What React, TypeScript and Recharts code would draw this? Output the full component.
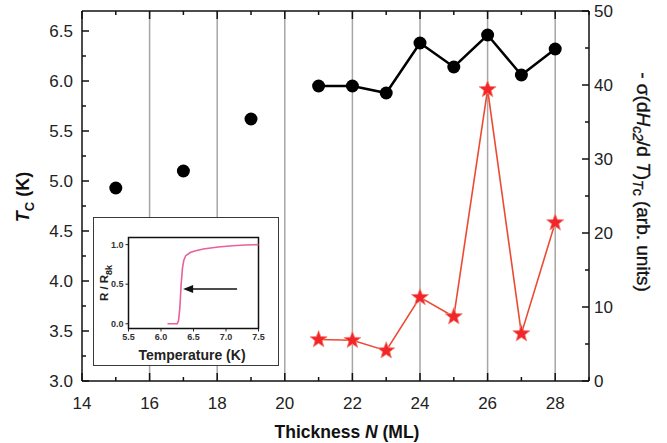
import React from 'react';
import {
  ComposedChart,
  LineChart,
  Line,
  XAxis,
  YAxis,
  CartesianGrid,
  ReferenceLine,
  ReferenceArea,
} from 'recharts';

// ---- main chart data ----
const thicknessEarly = [15, 17, 19];
const tcEarly = [4.93, 5.1, 5.62];
const thicknessLate = [21, 22, 23, 24, 25, 26, 27, 28];
const tcLate = [5.95, 5.95, 5.88, 6.38, 6.14, 6.46, 6.06, 6.32];
const slopeLate = [5.6, 5.5, 4.1, 11.3, 8.7, 39.4, 6.4, 21.4];

const xTicks = [14, 15, 16, 17, 18, 19, 20, 21, 22, 23, 24, 25, 26, 27, 28, 29];
const xLabelTicks = [14, 16, 18, 20, 22, 24, 26, 28];
const gridX = [16, 18, 20, 22, 24, 26, 28];
const leftTicks = [3, 3.25, 3.5, 3.75, 4, 4.25, 4.5, 4.75, 5, 5.25, 5.5, 5.75, 6, 6.25, 6.5];
const leftLabelTicks = [3, 3.5, 4, 4.5, 5, 5.5, 6, 6.5];
const rightTicks = [0, 5, 10, 15, 20, 25, 30, 35, 40, 45, 50];
const rightLabelTicks = [0, 10, 20, 30, 40, 50];

// ---- inset data ----
const insetTemp = [6.1, 6.25, 6.27, 6.29, 6.31, 6.33, 6.35, 6.38, 6.45, 6.52, 6.65, 6.88, 7.1, 7.3, 7.5];
const insetR = [0, 0, 0.04, 0.2, 0.5, 0.7, 0.8, 0.86, 0.9, 0.92, 0.945, 0.97, 0.985, 0.995, 1.0];
const insetXTicks = [5.5, 6.0, 6.5, 7.0, 7.5];
const insetYTicks = [0, 0.5, 1.0];
const arrowFrom = { t: 7.17, r: 0.44 };
const arrowTo = { t: 6.34, r: 0.44 };

const FONT = '"Liberation Sans", Arial, Helvetica, sans-serif';

const mainData = [
  ...thicknessEarly.map((n, i) => ({ n, tcEarly: tcEarly[i] })),
  ...thicknessLate.map((n, i) => ({ n, tc: tcLate[i], slope: slopeLate[i] })),
];
const insetData = insetTemp.map((t, i) => ({ t, r: insetR[i] }));

const AXIS = '#111';
const TICK_FONT = 17;

const BottomTick = (props: any) => {
  const { x, y, payload } = props;
  const v = payload.value;
  const major = xLabelTicks.includes(v);
  return (
    <g>
      <line x1={x} x2={x} y1={y} y2={y - (major ? 8 : 4)} stroke={AXIS} strokeWidth={1.5} />
      {major && (
        <text x={x} y={y + 22} textAnchor="middle" dominantBaseline="central" fontSize={TICK_FONT} fill="#222" fontFamily={FONT}>
          {v}
        </text>
      )}
    </g>
  );
};

const TopTick = (props: any) => {
  const { x, y, payload } = props;
  const v = payload.value;
  const major = xLabelTicks.includes(v);
  return <line x1={x} x2={x} y1={y} y2={y + (major ? 8 : 4)} stroke={AXIS} strokeWidth={1.5} />;
};

const LeftTick = (props: any) => {
  const { x, y, payload } = props;
  const v = payload.value;
  const major = leftLabelTicks.includes(v);
  return (
    <g>
      <line x1={x} x2={x + (major ? 7 : 4)} y1={y} y2={y} stroke={AXIS} strokeWidth={1.5} />
      {major && (
        <text x={x - 9} y={y} textAnchor="end" dominantBaseline="central" fontSize={TICK_FONT} fill="#222" fontFamily={FONT}>
          {v.toFixed(1)}
        </text>
      )}
    </g>
  );
};

const RightTick = (props: any) => {
  const { x, y, payload } = props;
  const v = payload.value;
  const major = rightLabelTicks.includes(v);
  return (
    <g>
      <line x1={x} x2={x - (major ? 7 : 4)} y1={y} y2={y} stroke={AXIS} strokeWidth={1.5} />
      {major && (
        <text x={x + 5} y={y} textAnchor="start" dominantBaseline="central" fontSize={TICK_FONT} fill="#222" fontFamily={FONT}>
          {v}
        </text>
      )}
    </g>
  );
};

const StarDot = (props: any) => {
  const { cx, cy, index } = props;
  if (cx == null || cy == null) return <g key={`s-${index}`} />;
  const R = 9;
  const r = 3.8;
  const pts: string[] = [];
  for (let i = 0; i < 10; i++) {
    const a = -Math.PI / 2 + (i * Math.PI) / 5;
    const rad = i % 2 === 0 ? R : r;
    pts.push(`${cx + rad * Math.cos(a)},${cy + rad * Math.sin(a)}`);
  }
  return <polygon key={`s-${index}`} points={pts.join(' ')} fill="#f2262a" stroke="#f48a7c" strokeWidth={0.8} />;
};

const ArrowShape = (p: any) => {
  const { x1, y1, x2, y2 } = p;
  const left = Math.min(x1, x2);
  const right = Math.max(x1, x2);
  const y = (y1 + y2) / 2;
  return (
    <g>
      <line x1={right} x2={left + 8} y1={y} y2={y} stroke="#111" strokeWidth={1.4} />
      <polygon points={`${left},${y} ${left + 10},${y - 4} ${left + 10},${y + 4}`} fill="#111" />
    </g>
  );
};

const InsetXTick = (props: any) => {
  const { x, y, payload } = props;
  return (
    <text x={x} y={y + 8} textAnchor="middle" fontSize={9} fontWeight="bold" fill="#333" fontFamily={FONT}>
      {payload.value.toFixed(1)}
    </text>
  );
};

const InsetYTick = (props: any) => {
  const { x, y, payload } = props;
  return (
    <text x={x} y={y} textAnchor="end" dominantBaseline="central" fontSize={9} fontWeight="bold" fill="#333" fontFamily={FONT}>
      {payload.value.toFixed(1)}
    </text>
  );
};

export default function App() {
  return (
    <div style={{ position: 'absolute', left: 0, top: 0, width: 667, height: 443, background: '#fff', fontFamily: FONT }}>
      <ComposedChart
        width={667}
        height={443}
        data={mainData}
        margin={{ top: 10, right: 38, bottom: 32, left: 32 }}
      >
        <CartesianGrid
          xAxisId="bottom"
          yAxisId="left"
          horizontal={false}
          verticalValues={gridX}
          stroke="#aaa5a5"
          strokeWidth={1.5}
        />
        <XAxis
          xAxisId="bottom"
          dataKey="n"
          type="number"
          domain={[14, 29]}
          ticks={xTicks}
          interval={0}
          tickSize={0}
          tickMargin={0}
          tickLine={false}
          tick={<BottomTick />}
          axisLine={{ stroke: AXIS, strokeWidth: 1.5 }}
          height={30}
        />
        <XAxis
          xAxisId="top"
          orientation="top"
          dataKey="n"
          type="number"
          domain={[14, 29]}
          ticks={xTicks}
          interval={0}
          tickSize={0}
          tickMargin={0}
          tickLine={false}
          tick={<TopTick />}
          axisLine={{ stroke: AXIS, strokeWidth: 1.5 }}
          height={1}
        />
        <YAxis
          yAxisId="left"
          type="number"
          domain={[3, 6.7]}
          ticks={leftTicks}
          interval={0}
          tickSize={0}
          tickMargin={0}
          tickLine={false}
          tick={<LeftTick />}
          axisLine={{ stroke: AXIS, strokeWidth: 1.5 }}
          width={50}
          allowDataOverflow
        />
        <YAxis
          yAxisId="right"
          orientation="right"
          type="number"
          domain={[0, 50]}
          ticks={rightTicks}
          interval={0}
          tickSize={0}
          tickMargin={0}
          tickLine={false}
          tick={<RightTick />}
          axisLine={{ stroke: AXIS, strokeWidth: 1.5 }}
          width={40}
        />
        <Line
          xAxisId="bottom"
          yAxisId="right"
          dataKey="slope"
          stroke="#ec4a33"
          strokeWidth={1.6}
          dot={StarDot}
          activeDot={false}
          isAnimationActive={false}
        />
        <Line
          xAxisId="bottom"
          yAxisId="left"
          dataKey="tcEarly"
          stroke="none"
          dot={{ r: 6.5, fill: '#000', stroke: '#000', strokeWidth: 0 }}
          activeDot={false}
          isAnimationActive={false}
        />
        <Line
          xAxisId="bottom"
          yAxisId="left"
          dataKey="tc"
          stroke="#000"
          strokeWidth={2.5}
          dot={{ r: 6.5, fill: '#000', stroke: '#000', strokeWidth: 0 }}
          activeDot={false}
          isAnimationActive={false}
        />
      </ComposedChart>

      {/* axis titles */}
      <div
        style={{
          position: 'absolute',
          left: 25,
          top: 197,
          transform: 'translate(-50%, -50%) rotate(-90deg)',
          whiteSpace: 'nowrap',
          fontSize: 18,
          fontWeight: 'bold',
          color: '#111',
        }}
      >
        <i>T</i>
        <sub style={{ fontSize: 13 }}>C</sub> (K)
      </div>
      <div
        style={{
          position: 'absolute',
          left: 642,
          top: 182,
          transform: 'translate(-50%, -50%) rotate(90deg)',
          whiteSpace: 'nowrap',
          fontSize: 19,
          color: '#111',
          WebkitTextStroke: '0.35px #111',
        }}
      >
        - σ(d<i>H</i>
        <sub style={{ fontSize: 14 }}>
          <i>c2</i>
        </sub>
        /d <i>T</i>)<sub style={{ fontSize: 14 }}><i>T</i>c</sub> (arb. units)
      </div>
      <div
        style={{
          position: 'absolute',
          left: 347,
          top: 432,
          transform: 'translate(-50%, -50%)',
          whiteSpace: 'nowrap',
          fontSize: 17.5,
          fontWeight: 'bold',
          color: '#111',
        }}
      >
        Thickness <i>N</i> (ML)
      </div>

      {/* inset */}
      <div
        style={{
          position: 'absolute',
          left: 93,
          top: 217,
          width: 186,
          height: 149,
          boxSizing: 'border-box',
          border: '1.5px solid #3a3a3a',
          background: '#fff',
        }}
      >
        <LineChart width={183} height={146} data={insetData} margin={{ top: 19.5, right: 18.5, bottom: 15, left: 10 }}>
          <XAxis
            dataKey="t"
            type="number"
            domain={[5.5, 7.5]}
            ticks={insetXTicks}
            interval={0}
            tickSize={3}
            tickMargin={0}
            tickLine={{ stroke: '#222' }}
            tick={<InsetXTick />}
            axisLine={false}
            height={20.5}
          />
          <YAxis
            type="number"
            domain={[-0.06, 1.09]}
            ticks={insetYTicks}
            interval={0}
            tickSize={3}
            tickMargin={2}
            tickLine={{ stroke: '#222' }}
            tick={<InsetYTick />}
            axisLine={false}
            width={24.5}
          />
          <ReferenceArea
            x1={5.5}
            x2={7.5}
            y1={-0.06}
            y2={1.09}
            ifOverflow="visible"
            fill="none"
            fillOpacity={0}
            stroke="#111"
            strokeWidth={1.5}
          />
          <Line dataKey="r" stroke="#e8609c" strokeWidth={1.6} dot={false} activeDot={false} isAnimationActive={false} />
          <ReferenceLine
            segment={[
              { x: arrowFrom.t, y: arrowFrom.r },
              { x: arrowTo.t, y: arrowTo.r },
            ]}
            shape={ArrowShape}
            ifOverflow="visible"
          />
        </LineChart>
        <div
          style={{
            position: 'absolute',
            left: 98,
            top: 137,
            transform: 'translate(-50%, -50%)',
            whiteSpace: 'nowrap',
            fontSize: 14,
            fontWeight: 'bold',
            color: '#222',
          }}
        >
          Temperature (K)
        </div>
        <div
          style={{
            position: 'absolute',
            left: 11.5,
            top: 65,
            transform: 'translate(-50%, -50%) rotate(-90deg)',
            whiteSpace: 'nowrap',
            fontSize: 11.5,
            fontWeight: 'bold',
            color: '#222',
          }}
        >
          R / R<sub style={{ fontSize: 9 }}>8k</sub>
        </div>
      </div>
    </div>
  );
}
